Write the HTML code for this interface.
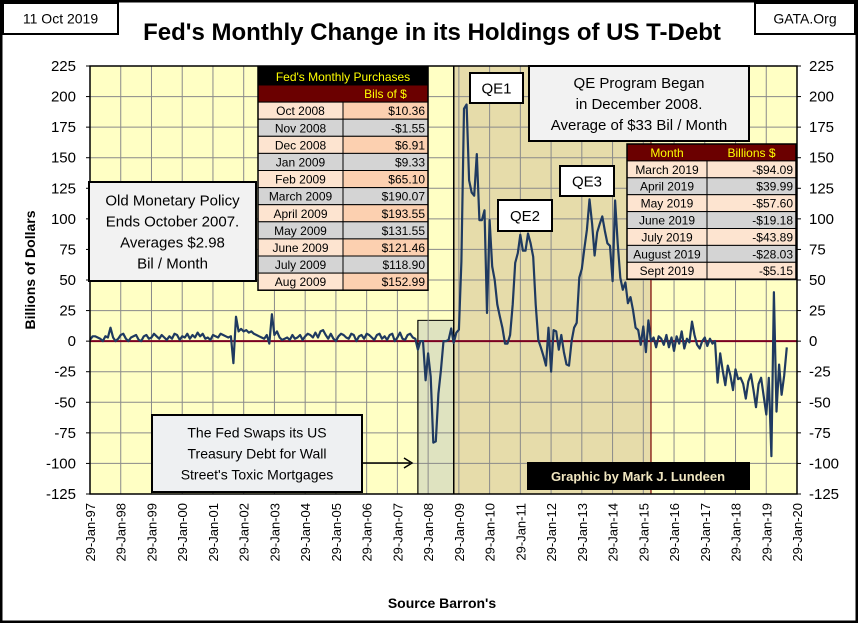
<!DOCTYPE html>
<html><head><meta charset="utf-8"><style>
body{margin:0;background:#fff;}
#c{position:relative;width:858px;height:623px;overflow:hidden;font-family:"Liberation Sans",sans-serif;}
svg text{font-family:"Liberation Sans",sans-serif;}
</style></head><body>
<div id="c">
<svg id="s" width="858" height="623"></svg>
</div>
<script>
const yTicks=[225,200,175,150,125,100,75,50,25,0,-25,-50,-75,-100,-125];
const xYears=["97","98","99","00","01","02","03","04","05","06","07","08","09","10","11","12","13","14","15","16","17","18","19","20"];
const values=[
1,4,4,3,2,0,4,3,11,3,0,2,
5,6,2,0,3,4,5,1,0,4,5,2,
3,6,4,2,5,3,1,4,2,6,5,1,
4,3,6,2,5,3,7,4,6,2,3,1,
5,4,3,6,5,4,3,4,-18,20,8,10,
8,9,7,8,6,5,4,3,2,5,-2,22,
5,8,3,1,2,3,1,5,2,3,5,1,
4,6,5,3,7,3,8,9,5,2,6,2,
0,4,6,5,3,2,6,5,0,4,5,2,
6,5,3,1,5,6,2,4,1,5,6,0,
3,7,2,1,5,6,3,2,
-7,0,0,-32,-10,-29,-83,-82,-43,-24,0,0,1,10.36,-1.55,6.91,9.33,65.10,190.07,193.55,131.55,121.46,118.90,152.99,
99,99,107,23,99,61,50,30,20,11,-2,-2,5,30,64,72,87,74,74,88,80,69,30,1,-5,-12,-20,11,
-25,9,8,-7,5,-9,-19,-20,0,11,15,52,59,76,91,116,96,70,89,96,102,90,80,78,49,115,80,52,42,48,31,36,25,11,9,-3,12,-9,17,0,
3,-5,4,2,-3,5,-5,3,-8,4,-2,8,-6,2,-1,16,5,-3,-6,0,3,-4,2,-2,
0,-34,-10,-24,-36,-20,-28,-40,-23,-31,-30,-35,-47,-33,-27,-40,-54,-35,-30,-45,-60,-30,
-94.09,39.99,-57.60,-19.18,-43.89,-28.03,-5.15];
const tbl1=[["Oct 2008","$10.36"],["Nov 2008","-$1.55"],["Dec 2008","$6.91"],["Jan 2009","$9.33"],["Feb 2009","$65.10"],["March 2009","$190.07"],["April 2009","$193.55"],["May 2009","$131.55"],["June 2009","$121.46"],["July 2009","$118.90"],["Aug 2009","$152.99"]];
const tbl2=[["March 2019","-$94.09"],["April 2019","$39.99"],["May 2019","-$57.60"],["June 2019","-$19.18"],["July 2019","-$43.89"],["August 2019","-$28.03"],["Sept 2019","-$5.15"]];

const L=90,R=797,T=66,B=494;
const yMin=-125,yMax=225;
const yS=v=>B-(v-yMin)/(yMax-yMin)*(B-T);
const xM=m=>L+m*(R-L)/276;
const s=document.getElementById('s');
const NS='http://www.w3.org/2000/svg';
function mk(tag,at,txt){const e=document.createElementNS(NS,tag);for(const k in at)e.setAttribute(k,at[k]);if(txt!=null)e.textContent=txt;s.appendChild(e);return e;}

let e;
e=mk('rect',{x:1,y:1,width:856,height:621,fill:'#fff',stroke:'#000','stroke-width':3});

e=mk('rect',{x:L,y:T,width:R-L,height:B-T,fill:'#ffffc4'});

e=mk('rect',{x:xM(128),y:yS(17),width:xM(142)-xM(128),height:B-yS(17),fill:'#dfe3c0',stroke:'#000','stroke-width':1});

e=mk('rect',{x:xM(142),y:T,width:xM(219)-xM(142),height:B-T,fill:'#e6dcaa',stroke:'#7a0000','stroke-width':1});

yTicks.forEach(v=>{e=mk('line',{x1:L,x2:R,y1:yS(v),y2:yS(v),stroke:'#8a8a8a','stroke-width':1});
});
xYears.forEach((y,i)=>{const x=xM(i*12);e=mk('line',{x1:x,x2:x,y1:T,y2:B,stroke:'#8a8a8a','stroke-width':1});
});
e=mk('line',{x1:xM(128),x2:xM(128),y1:yS(17),y2:B,stroke:'#000','stroke-width':1});

e=mk('line',{x1:xM(142),x2:xM(142),y1:T,y2:B,stroke:'#000','stroke-width':1.5});

e=mk('line',{x1:xM(219),x2:xM(219),y1:150,y2:B,stroke:'#7a0000','stroke-width':1.2});

e=mk('line',{x1:L,x2:R,y1:yS(0),y2:yS(0),stroke:'#7a0020','stroke-width':2});

const pts=values.map((v,i)=>xM(i).toFixed(1)+','+yS(v).toFixed(1)).join(' ');
e=mk('polyline',{points:pts,fill:'none',stroke:'#1f3a60','stroke-width':2.2,'stroke-linejoin':'round'});

e=mk('rect',{x:L,y:T,width:R-L,height:B-T,fill:'none',stroke:'#000','stroke-width':1.5});

yTicks.forEach(v=>{
 e=mk('text',{x:76,y:yS(v)+5,'text-anchor':'end','font-size':15},String(v));
 
 e=mk('text',{x:809,y:yS(v)+5,'text-anchor':'start','font-size':15},String(v));
 
 e=mk('line',{x1:L-4,x2:L,y1:yS(v),y2:yS(v),stroke:'#000'});
 e=mk('line',{x1:R,x2:R+4,y1:yS(v),y2:yS(v),stroke:'#000'});
});
xYears.forEach((y,i)=>{const x=xM(i*12)+5;
 e=mk('text',{x:x,y:503,'text-anchor':'end','font-size':13,transform:`rotate(-90 ${x} 503)`},'29-Jan-'+y);
 });
e=mk('text',{x:35,y:270,'text-anchor':'middle','font-size':14,'font-weight':'bold',transform:'rotate(-90 35 270)','xml:space':'preserve'},'Billions  of Dollars');

e=mk('text',{x:442,y:608,'text-anchor':'middle','font-size':14,'font-weight':'bold'},"Source Barron's");

e=mk('text',{x:432,y:40,'text-anchor':'middle','font-size':24,'font-weight':'bold'},"Fed's Monthly Change in its Holdings of US T-Debt");

function box(name,x,y,w,h,lines,fs,fill,lh,sw){
 e=mk('rect',{x:x,y:y,width:w,height:h,fill:fill||'#fff',stroke:'#000','stroke-width':sw||2});
 
 const n=lines.length;lh=lh||fs*1.3;const y0=y+h/2-(n-1)*lh/2+fs*0.35;
 lines.forEach((t,i)=>{e=mk('text',{x:x+w/2,y:y0+i*lh,'text-anchor':'middle','font-size':fs},t);
 });
}
box('date-box',3,3,115,31,['11 Oct 2019'],14,'#fff');
box('source-box',755,3,100,31,['GATA.Org'],14,'#fff');
box('old-policy-note',89,182,167,99,['Old Monetary Policy','Ends October 2007.','Averages $2.98','Bil / Month'],15,'#f2f2f2',21);
box('qe-program-note',529,66,220,75,['QE Program Began','in December 2008.','Average of $33 Bil / Month'],15,'#f2f2f2',21);
box('qe1-label',470,73,53,30,['QE1'],15,'#fff');
box('qe2-label',498,200,54,31,['QE2'],15,'#fff');
box('qe3-label',560,166,54,30,['QE3'],15,'#fff');
box('swap-note',152,415,210,77,['The Fed Swaps its US','Treasury Debt for Wall',"Street's Toxic Mortgages"],14,'#eef0f2',21);
e=mk('line',{x1:362,y1:463,x2:410,y2:463,stroke:'#000','stroke-width':1.5});
e=mk('path',{d:'M404,458 L412,463 L404,468',fill:'none',stroke:'#000','stroke-width':1.5});
e=mk('rect',{x:527,y:462,width:223,height:28,fill:'#000'});
e=mk('text',{x:638,y:481,'text-anchor':'middle','font-size':13,'font-weight':'bold',fill:'#f0e6c0','font-family':'Liberation Serif'},'Graphic by Mark J. Lundeen');

function table(name,x,y,w1,w2,rh,hdr,rows,title){
 let yy=y;
 if(title){e=mk('rect',{x:x,y:yy,width:w1+w2,height:18,fill:'#000'});
  e=mk('text',{x:x+(w1+w2)/2,y:yy+14,'text-anchor':'middle','font-size':12,fill:'#ffff00'},title);yy+=18;}
 e=mk('rect',{x:x,y:yy,width:w1+w2,height:rh,fill:'#6b0000',stroke:'#000'});
 e=mk('text',{x:x+w1/2,y:yy+rh-4,'text-anchor':'middle','font-size':12,fill:'#ffff00'},hdr[0]);
 e=mk('text',{x:x+w1+w2/2,y:yy+rh-4,'text-anchor':'middle','font-size':12,fill:'#ffff00'},hdr[1]);
 yy+=rh;
 rows.forEach((r,i)=>{const f1=i%2?'#d4d4d4':'#fde4d0',f2=i%2?'#d4d4d4':(title?'#fcd0b0':'#fde4d0');
  e=mk('rect',{x:x,y:yy,width:w1,height:rh,fill:f1,stroke:'#000'});
  e=mk('rect',{x:x+w1,y:yy,width:w2,height:rh,fill:f2,stroke:'#000'});
  e=mk('text',{x:x+w1/2,y:yy+rh-4,'text-anchor':'middle','font-size':12},r[0]);
  e=mk('text',{x:x+w1+w2-3,y:yy+rh-4,'text-anchor':'end','font-size':12},r[1]);
  yy+=rh;});
 e=mk('rect',{x:x,y:y,width:w1+w2,height:yy-y,fill:'none',stroke:'#000','stroke-width':1.5});
}
table('purchases-table',258,67,85,85,17.1,['','Bils of $'],tbl1,"Fed's Monthly Purchases");
table('recent-table',627,144,80,89,16.9,['Month','Billions $'],tbl2,null);
</script>
</body></html>
